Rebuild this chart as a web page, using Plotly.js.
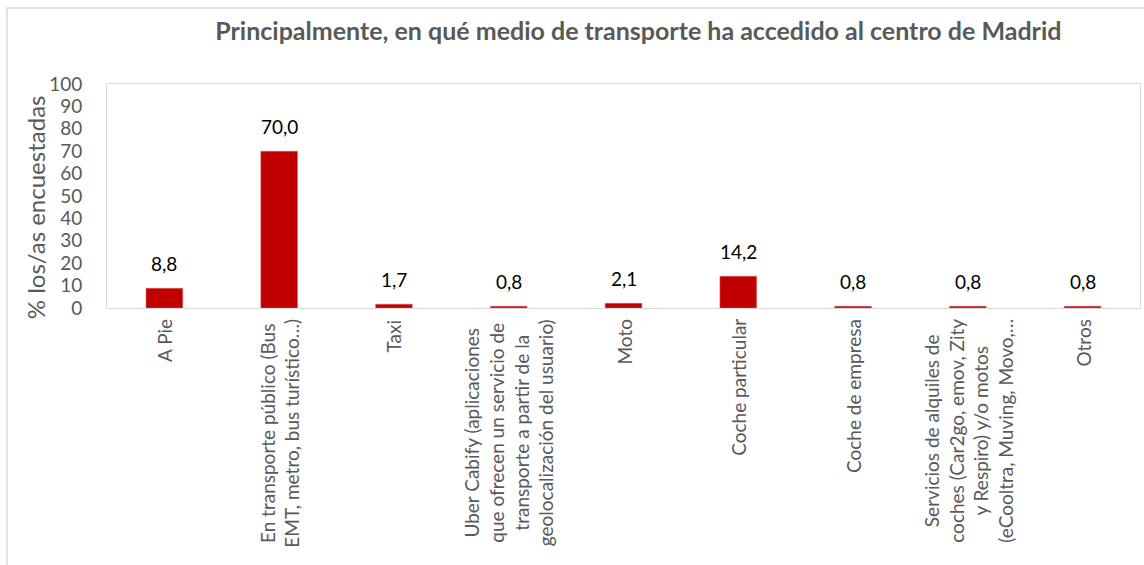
<!DOCTYPE html>
<html><head><meta charset="utf-8">
<script src="https://cdn.plot.ly/plotly-3.0.1.min.js"></script>
<style>html,body{margin:0;padding:0;background:#fff;}#chart{width:1144px;height:565px;}</style>
</head><body><div id="chart"></div>
<script>
const chartTitle = "Principalmente, en qué medio de transporte ha accedido al centro de Madrid";
const yTitle = "% los/as encuestadas";
const categories = [
  "A Pie",
  "En transporte público (Bus<br>EMT, metro, bus turístico…)",
  "Taxi",
  "Uber Cabify (aplicaciones<br>que ofrecen un servicio de<br>transporte a partir de la<br>geolocalización del usuario)",
  "Moto",
  "Coche particular",
  "Coche de empresa",
  "Servicios de alquiles de<br>coches (Car2go, emov, Zity<br>y Respiro) y/o motos<br>(eCooltra, Muving, Movo,…",
  "Otros"
];
const values = [8.8, 70.0, 1.7, 0.8, 2.1, 14.2, 0.8, 0.8, 0.8];
const yTickValues = [0, 10, 20, 30, 40, 50, 60, 70, 80, 90, 100];

const FONT = "Lato, 'Open Sans', sans-serif";
const GRAY = "#595959";

const fmt = v => v.toFixed(1).replace(".", ",");

const annotations = [];
categories.forEach((c, i) => {
  annotations.push({
    x: c, y: values[i], xref: "x", yref: "y",
    text: fmt(values[i]), showarrow: false,
    yanchor: "bottom", yshift: 11,
    font: {family: FONT, size: 19, color: "#000"}
  });
  annotations.push({
    x: c, y: 0, xref: "x", yref: "paper",
    text: c, showarrow: false, textangle: -90,
    yanchor: "top", xanchor: "center", yshift: -9, align: "center",
    font: {family: FONT, size: 19, color: GRAY}
  });
});
annotations.push({
  x: -0.0697, y: 0.45, xref: "paper", yref: "paper",
  text: yTitle, showarrow: false, textangle: -90,
  xanchor: "center", yanchor: "middle",
  font: {family: FONT, size: 24, color: GRAY}
});

const trace = {
  type: "bar", x: categories, y: values,
  marker: {color: "#C00000", line: {color: "#e06666", width: 0.5}},
  hoverinfo: "skip"
};

const layout = {
  width: 1144, height: 565,
  margin: {l: 107, r: 4, t: 84, b: 257},
  paper_bgcolor: "#fff", plot_bgcolor: "#fff",
  showlegend: false,
  bargap: 0.68,
  title: {
    text: chartTitle, x: 0.558, xref: "container", xanchor: "center",
    y: 0.945, yref: "container", yanchor: "middle",
    font: {family: FONT, size: 25, color: GRAY, weight: 700}
  },
  xaxis: {
    type: "category", showticklabels: false, ticks: "",
    showline: true, mirror: true, linecolor: "#d9d9d9", linewidth: 1,
    showgrid: false, zeroline: false, fixedrange: true
  },
  yaxis: {
    range: [0, 100], tickvals: yTickValues, ticktext: yTickValues.map(String),
    ticks: "outside", ticklen: 20, tickcolor: "rgba(0,0,0,0)",
    showline: true, mirror: true, linecolor: "#d9d9d9", linewidth: 1,
    showgrid: false, zeroline: false, fixedrange: true,
    tickfont: {family: FONT, size: 19, color: GRAY}
  },
  shapes: [{
    type: "rect", xref: "paper", yref: "paper", layer: "below",
    x0: (7 - 107) / 1033, x1: (1150 - 107) / 1033,
    y0: (308 - 575) / 224, y1: (308 - 8) / 224,
    line: {color: "#d9d9d9", width: 1.5}, fillcolor: "rgba(0,0,0,0)"
  }],
  annotations: annotations
};

Plotly.newPlot("chart", [trace], layout, {displayModeBar: false, staticPlot: true});
</script>
</body></html>
